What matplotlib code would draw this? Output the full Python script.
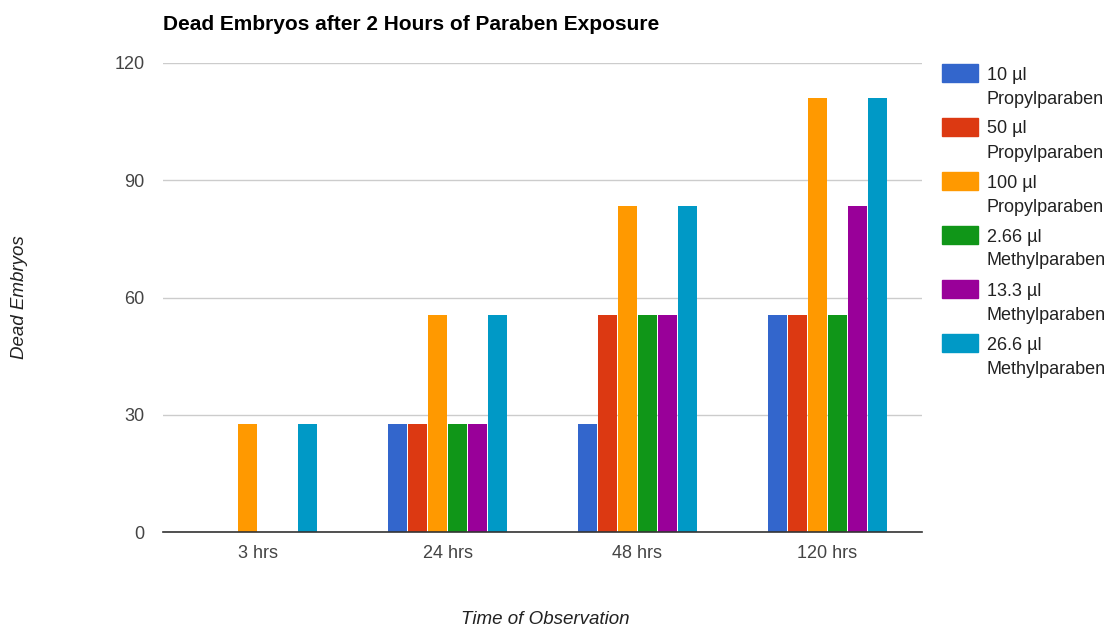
import matplotlib
matplotlib.use('Agg')
import matplotlib.pyplot as plt
from matplotlib.patches import Rectangle
import numpy as np

plt.rcParams['font.family'] = ['Liberation Sans', 'DejaVu Sans']

# data
times = ['3 hrs', '24 hrs', '48 hrs', '120 hrs']
doses = ['10 µl', '50 µl', '100 µl', '2.66 µl', '13.3 µl', '26.6 µl']
compounds = ['Propylparaben', 'Propylparaben', 'Propylparaben',
             'Methylparaben', 'Methylparaben', 'Methylparaben']
propyl_10 = [0, 27.78, 27.78, 55.56]
propyl_50 = [0, 27.78, 55.56, 55.56]
propyl_100 = [27.78, 55.56, 83.33, 111.11]
methyl_266 = [0, 27.78, 55.56, 55.56]
methyl_133 = [0, 27.78, 55.56, 83.33]
methyl_266b = [27.78, 55.56, 83.33, 111.11]
values = [propyl_10, propyl_50, propyl_100, methyl_266, methyl_133, methyl_266b]
colors = ['#3366cc', '#dc3912', '#ff9900', '#109618', '#990099', '#0099c6']

fig = plt.figure(figsize=(11.14, 6.29), dpi=100)
ax = fig.add_axes([0.146, 0.154, 0.682, 0.746])

x = np.arange(len(times))
w = 0.1
pitch = 0.105
for i, (vals, c) in enumerate(zip(values, colors)):
    ax.bar(x + (i - 2.5) * pitch, vals, width=w, color=c, zorder=3)

ax.set_xlim(-0.5, 3.5)
ax.set_ylim(0, 120)
ax.set_yticks([0, 30, 60, 90, 120])
ax.set_xticks(x)
ax.set_xticklabels(times)
ax.tick_params(length=0, labelsize=13, colors='#444444')
ax.tick_params(axis='x', pad=9)
ax.tick_params(axis='y', pad=13)
ax.grid(axis='y', color='#cccccc', linewidth=1, zorder=0)
for s in ['top', 'right', 'left']:
    ax.spines[s].set_visible(False)
ax.spines['bottom'].set_color('#333333')
ax.spines['bottom'].set_linewidth(1.2)
ax.spines['bottom'].set_zorder(4)

fig.text(163 / 1114, 1 - 30 / 629, 'Dead Embryos after 2 Hours of Paraben Exposure',
         fontsize=15, fontweight='bold', ha='left', va='baseline', color='#000000')
fig.text(20 / 1114, 1 - 297 / 629, 'Dead Embryos', rotation=90, style='italic',
         fontsize=13.5, ha='center', va='center', color='#222222')
fig.text(545 / 1114, 1 - 620 / 629, 'Time of Observation', style='italic',
         fontsize=13.5, ha='center', va='center', color='#222222')

# legend drawn by hand: box next to first line of each label
for i, (dose, comp, c) in enumerate(zip(doses, compounds, colors)):
    yc = 73 + i * 54
    fig.patches.append(Rectangle((942 / 1114, 1 - (yc + 9) / 629), 36 / 1114, 18 / 629,
                                 transform=fig.transFigure, color=c))
    fig.text(987 / 1114, 1 - (yc + 6.5) / 629, dose, fontsize=13, ha='left',
             va='baseline', color='#222222')
    fig.text(987 / 1114, 1 - (yc + 30.5) / 629, comp, fontsize=13, ha='left',
             va='baseline', color='#222222')

fig.savefig('out.png', dpi=100)
